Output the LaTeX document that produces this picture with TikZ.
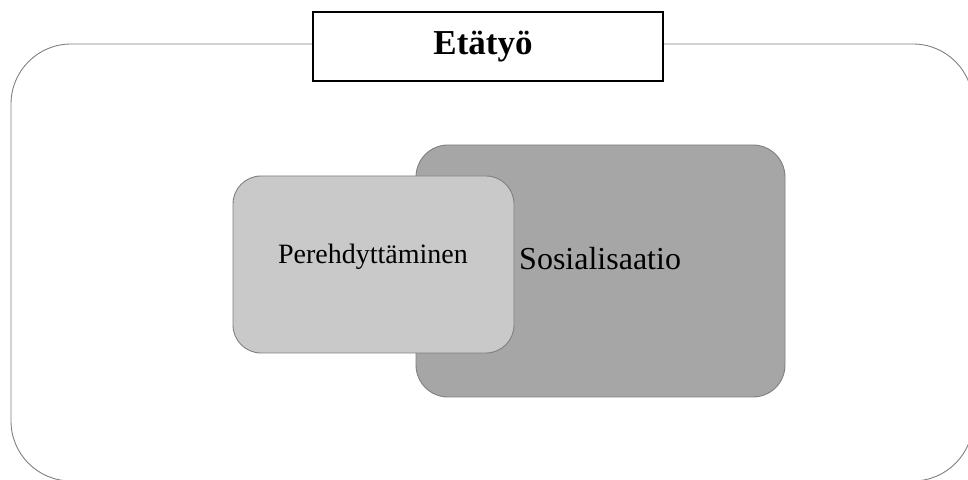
\documentclass[tikz,border=0pt]{standalone}
\usepackage{fontspec}
\setmainfont{Liberation Serif}
\usepackage{xcolor}
\definecolor{rim}{HTML}{808080}
\definecolor{soc}{HTML}{A6A6A6}
\definecolor{pere}{HTML}{C9C9C9}

\begin{document}
\begin{tikzpicture}[x=1pt, y=1pt,
  area/.style={draw=rim, line width=0.9pt, rounded corners=60pt},
  box/.style={draw=rim, line width=0.9pt, rounded corners=28pt, inner sep=0pt},
  title/.style={draw=black, line width=1.2pt, fill=white, inner sep=0pt,
    minimum width=350pt, minimum height=69pt},
  lbl/.style={inner sep=0pt, anchor=base}]
\useasboundingbox (0,0) rectangle (968,479);

\draw[area] (11,-2) rectangle (973,435);
\node[title] (t) at (488,432.5) {};
\node[lbl] (tl) at (483,424) {\fontsize{35}{40}\selectfont\bfseries Etätyö};

\node[box, fill=soc, minimum width=369pt, minimum height=252pt,
  rounded corners=32pt] (s) at (600.5,208) {};
\node[box, fill=pere, minimum width=281pt, minimum height=177pt] (p) at (373.5,214.5) {};

\node[lbl] (pl) at (373,215) {\fontsize{28}{32}\selectfont Perehdyttäminen};
\node[lbl, anchor=base west] (sl) at (519,209) {\fontsize{32}{36}\selectfont Sosialisaatio};
\end{tikzpicture}
\end{document}
